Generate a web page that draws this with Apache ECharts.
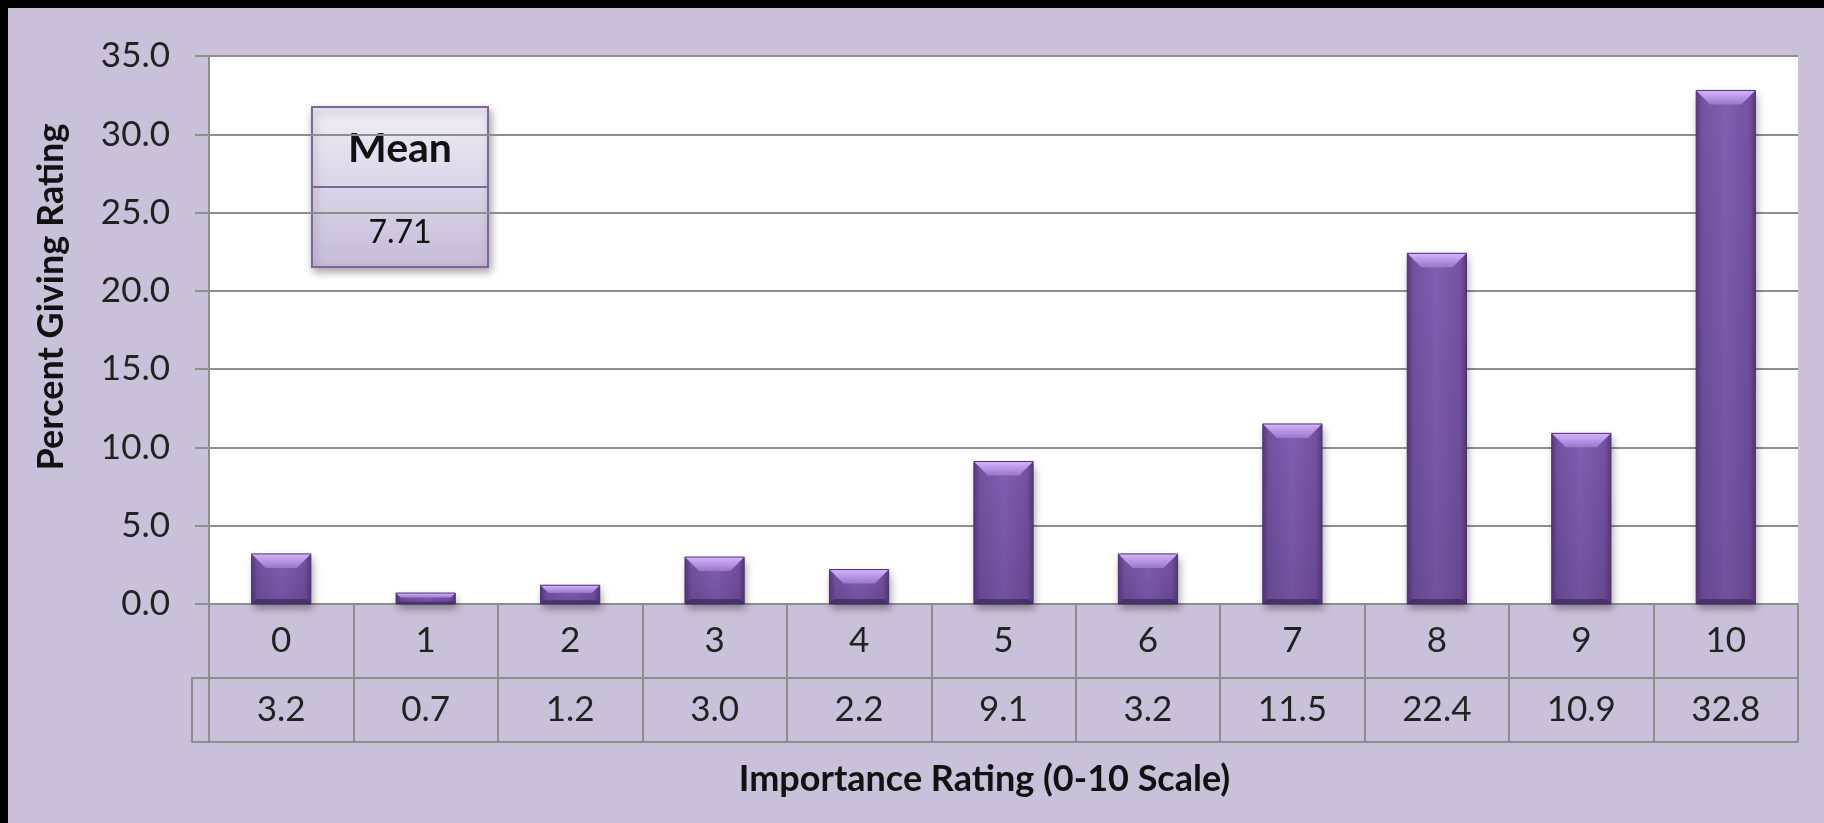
<!DOCTYPE html>
<html>
<head>
<meta charset="utf-8">
<script src="https://cdn.jsdelivr.net/npm/echarts@6/dist/echarts.min.js"></script>
<style>
  html, body { margin: 0; padding: 0; background: #000; }
  #chart { width: 1824px; height: 823px; }
</style>
</head>
<body>
<div id="chart"></div>
<script>
const categories = ['0', '1', '2', '3', '4', '5', '6', '7', '8', '9', '10'];
const values = [3.2, 0.7, 1.2, 3.0, 2.2, 9.1, 3.2, 11.5, 22.4, 10.9, 32.8];
const yTicks = { min: 0, max: 35, interval: 5 };
const yTitle = 'Percent Giving Rating';
const xTitle = 'Importance Rating (0-10 Scale)';
const meanLabel = 'Mean';
const meanValue = '7.71';

const FONT = 'Lato, "Open Sans", sans-serif';
const GRAY = '#8e8e8e';
const chart = echarts.init(document.getElementById('chart'), null, { renderer: 'canvas' });

function renderBar(params, api) {
  const idx = api.value(0);
  const v = api.value(1);
  const top = api.coord([idx, v]);
  const base = api.coord([idx, 0]);
  const bw = api.size([1, 0])[0] * 0.41;
  const x0 = top[0] - bw / 2, x1 = top[0] + bw / 2;
  const y0 = top[1], y1 = base[1];
  const h = y1 - y0;
  const b = Math.min(14, h * 0.42);
  const bb = Math.min(5, h * 0.2);
  return {
    type: 'group',
    children: [
      {
        type: 'rect',
        shape: { x: x0, y: y0, width: bw, height: h },
        style: {
          fill: new echarts.graphic.LinearGradient(0, 0, 1, 0, [
            { offset: 0, color: '#553a7c' },
            { offset: 0.1, color: '#7352a0' },
            { offset: 0.5, color: '#8260b2' },
            { offset: 0.9, color: '#7352a0' },
            { offset: 1, color: '#553a7c' }
          ]),
          shadowBlur: 8, shadowOffsetX: 2, shadowOffsetY: 5,
          shadowColor: 'rgba(0,0,0,0.35)'
        }
      },
      {
        type: 'rect',
        shape: { x: x0, y: y0, width: bw, height: h },
        style: {
          fill: new echarts.graphic.LinearGradient(0, 0, 0, 1, [
            { offset: 0, color: 'rgba(40,20,70,0)' },
            { offset: 1, color: 'rgba(40,20,70,0.18)' }
          ])
        }
      },
      {
        type: 'polygon',
        shape: { points: [[x0, y0], [x1, y0], [x1 - b, y0 + b], [x0 + b, y0 + b]] },
        style: {
          fill: new echarts.graphic.LinearGradient(0, 0, 0, 1, [
            { offset: 0, color: '#d6b4fc' },
            { offset: 1, color: '#9a76cc' }
          ])
        }
      },
      {
        type: 'polygon',
        shape: { points: [[x0, y1], [x1, y1], [x1 - bb, y1 - bb], [x0 + bb, y1 - bb]] },
        style: { fill: 'rgba(60,38,92,0.7)' }
      },
      {
        type: 'rect',
        shape: { x: x0, y: y0, width: bw, height: h },
        style: { fill: 'none', stroke: '#4a326e', lineWidth: 1 }
      }
    ]
  };
}

const option = {
  backgroundColor: '#cac0da',
  animation: false,
  textStyle: { fontFamily: FONT },
  grid: {
    left: 209, right: 26, top: 56, bottom: 219,
    show: true, backgroundColor: '#ffffff', borderWidth: 0
  },
  xAxis: [
    {
      type: 'category', data: categories, position: 'bottom', boundaryGap: true,
      axisLine: { show: true, lineStyle: { color: GRAY, width: 2 } },
      axisTick: { show: true, interval: 0, length: 138, lineStyle: { color: GRAY, width: 2 } },
      axisLabel: { interval: 0, fontSize: 35, color: '#222', margin: 19, fontFamily: FONT },
      name: xTitle, nameLocation: 'middle', nameGap: 157,
      nameTextStyle: { fontSize: 36, fontWeight: 'bold', color: '#111', fontFamily: FONT, padding: [0, 38, 0, 0] }
    },
    {
      type: 'category', data: categories, position: 'bottom', offset: 74, boundaryGap: true,
      axisLine: { show: true, lineStyle: { color: GRAY, width: 2 } },
      axisTick: { show: false },
      axisLabel: {
        interval: 0, fontSize: 35, color: '#222', margin: 14, fontFamily: FONT,
        formatter: (v, i) => values[i].toFixed(1)
      }
    },
    {
      type: 'category', data: categories, position: 'bottom', offset: 138, boundaryGap: true,
      axisLine: { show: true, lineStyle: { color: GRAY, width: 2 } },
      axisTick: { show: false },
      axisLabel: { show: false }
    }
  ],
  yAxis: {
    type: 'value', min: yTicks.min, max: yTicks.max, interval: yTicks.interval,
    axisLine: { show: true, lineStyle: { color: GRAY, width: 2 } },
    axisTick: { show: true, length: 14, lineStyle: { color: GRAY, width: 2 } },
    splitLine: { show: true, lineStyle: { color: GRAY, width: 2 } },
    axisLabel: {
      fontSize: 35, color: '#222', margin: 39, fontFamily: FONT,
      formatter: v => v.toFixed(1)
    },
    name: yTitle, nameLocation: 'middle', nameRotate: 90, nameGap: 140,
    nameTextStyle: { fontSize: 36, fontWeight: 'bold', color: '#111', fontFamily: FONT, padding: [0, 0, 0, 66] }
  },
  series: [
    {
      type: 'custom',
      xAxisIndex: 0, yAxisIndex: 0,
      renderItem: renderBar,
      encode: { x: 0, y: 1 },
      data: values.map((v, i) => [i, v]),
      z: 5
    }
  ],
  graphic: [
    { type: 'rect', z: 200, shape: { x: 0, y: 0, width: 1824, height: 8 }, style: { fill: '#000' } },
    { type: 'rect', z: 200, shape: { x: 0, y: 0, width: 8, height: 823 }, style: { fill: '#000' } },
    { type: 'line', z: 50, shape: { x1: 192, y1: 678, x2: 210, y2: 678 }, style: { stroke: GRAY, lineWidth: 2 } },
    { type: 'line', z: 50, shape: { x1: 192, y1: 742, x2: 210, y2: 742 }, style: { stroke: GRAY, lineWidth: 2 } },
    { type: 'line', z: 50, shape: { x1: 192, y1: 677, x2: 192, y2: 743 }, style: { stroke: GRAY, lineWidth: 2 } },
    {
      type: 'group', z: 100,
      children: [
        {
          type: 'rect',
          shape: { x: 312, y: 107, width: 176, height: 160 },
          style: {
            fill: new echarts.graphic.LinearGradient(0, 0, 0, 1, [
              { offset: 0, color: '#f0edf6' },
              { offset: 0.5, color: '#dcd4e7' },
              { offset: 1, color: '#c6bad8' }
            ]),
            stroke: '#7f659c', lineWidth: 2,
            shadowBlur: 8, shadowOffsetX: 2, shadowOffsetY: 4,
            shadowColor: 'rgba(0,0,0,0.35)'
          }
        },
        { type: 'line', shape: { x1: 312, y1: 187, x2: 488, y2: 187 }, style: { stroke: '#7f659c', lineWidth: 2 } },
        {
          type: 'text',
          style: { text: meanLabel, x: 400, y: 149, align: 'center', verticalAlign: 'middle',
                   font: 'bold 41px ' + FONT, fill: '#111' }
        },
        {
          type: 'text',
          style: { text: meanValue, x: 400, y: 233, align: 'center', verticalAlign: 'middle',
                   font: '32px ' + FONT, fill: '#111' }
        }
      ]
    }
  ]
};
chart.setOption(option);
</script>
</body>
</html>
